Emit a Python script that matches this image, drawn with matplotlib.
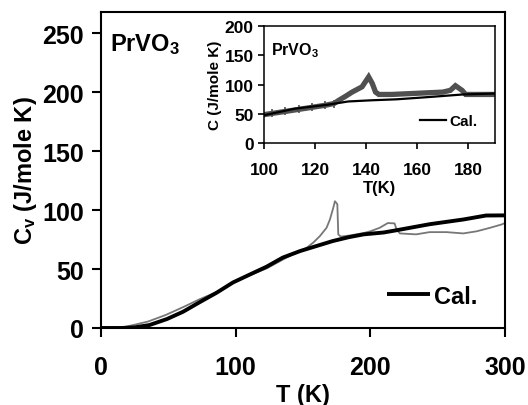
import matplotlib
matplotlib.use('Agg')
import matplotlib.pyplot as plt

plt.rcParams['font.family'] = ['Liberation Sans', 'DejaVu Sans']
plt.rcParams['font.weight'] = 'bold'
plt.rcParams['mathtext.default'] = 'regular'

# main panel: measured Cv and calculated curve
T_meas = [0, 10, 16, 24, 35, 48, 61, 73.5, 86, 98, 111, 123, 135, 145, 152.7,
          157.6, 162.6, 167.5, 170, 172.5, 173.7, 175.5, 176.2, 178, 185, 195,
          200, 207, 213, 218, 219.5, 222, 234, 244, 256.6, 269, 279, 289, 297.5, 300]
C_meas = [0, 0, 0.5, 2.5, 5.5, 11, 17.7, 24.5, 30.5, 38.6, 45, 50.5, 58, 64, 68,
          72.4, 78, 85, 92, 102, 107.5, 105, 79.4, 77.5, 78.5, 80.5,
          82, 85, 89, 88.7, 83.6, 80.2, 79.4, 81.3, 81.3, 80.2, 82, 85, 87.8, 89]

T_cal = [0, 15, 25, 36, 49, 61, 73, 86, 98, 111, 123, 135, 148, 160, 172, 184,
         195, 210, 220, 244, 269, 286, 300]
C_cal = [0, 0, 0.5, 2.5, 7.6, 13.8, 21.7, 30, 38.6, 45.6, 52, 59.7, 65.3, 69.5,
         73.7, 77, 79.4, 81, 83, 88, 92, 95.4, 95.5]

# inset: zoom on 100-190 K
Ti_meas = [100, 103, 108.4, 113.6, 118.8, 124, 127.4, 129.3, 132, 134.5, 138.4,
           141, 142.4, 143.7, 145, 150, 155, 160, 165, 170, 173, 175, 177.6,
           179, 182, 186, 190]
Ci_meas = [48.5, 50.5, 54, 57.5, 61, 64.5, 67.5, 73, 80, 87, 96,
           113, 102, 87, 83, 83, 84, 85, 86, 87, 90, 98, 90,
           83, 83, 83, 83]

Ti_cal = [100, 112, 125, 133, 142, 152, 165, 178, 190]
Ci_cal = [47.5, 58.6, 65.5, 71, 73, 74.7, 78.7, 83, 84.5]

fig = plt.figure(figsize=(5.28, 4.06), dpi=100)

ax = fig.add_axes([0.1913, 0.1897, 0.7651, 0.7783])
ax.plot(T_meas, C_meas, color='#777777', lw=1.3)
cal_line, = ax.plot(T_cal, C_cal, color='black', lw=2.8, solid_capstyle='butt')

ax.set_xlim(0, 300)
ax.set_ylim(0, 268)
ax.set_xticks([0, 100, 200, 300])
ax.set_yticks([0, 50, 100, 150, 200, 250])
ax.tick_params(axis='both', direction='out', length=6.5, width=1.5, labelsize=18)
ax.tick_params(axis='x', pad=13)
ax.tick_params(axis='y', pad=6)
for sp in ax.spines.values():
    sp.set_linewidth(1.5)

ax.set_xlabel('T (K)', fontsize=17, fontweight='bold', labelpad=3)
ax.set_ylabel('C$_\\mathregular{v}$ (J/mole K)', fontsize=17, fontweight='bold', labelpad=2)

ax.text(0.022, 0.90, 'PrVO$_\\mathregular{3}$', transform=ax.transAxes,
        fontsize=17, fontweight='bold', ha='left', va='center')

ax.legend(handles=[cal_line], labels=['Cal.'], loc='center left',
          bbox_to_anchor=(0.708, 0.101), frameon=False, fontsize=17,
          handlelength=1.8, handletextpad=0.2, borderpad=0, borderaxespad=0)

# inset
axi = fig.add_axes([0.5, 0.6453, 0.4375, 0.2882])
axi.plot(Ti_meas, Ci_meas, color='#505050', lw=3.8, marker='|', ms=6, mew=1.2,
         markevery=[1, 2, 3, 4, 5, 6], solid_joinstyle='miter')
cal_i, = axi.plot(Ti_cal, Ci_cal, color='black', lw=1.6)

axi.set_xlim(100, 190.5)
axi.set_ylim(0, 200)
axi.set_xticks([100, 120, 140, 160, 180])
axi.set_yticks([0, 50, 100, 150, 200])
axi.tick_params(axis='both', direction='out', length=4.5, width=1.2, labelsize=12.5)
axi.tick_params(axis='x', pad=9)
axi.tick_params(axis='y', pad=3)
for sp in axi.spines.values():
    sp.set_linewidth(1.1)

axi.set_xlabel('T(K)', fontsize=12, fontweight='bold', labelpad=2)
axi.set_ylabel('C (J/mole K)', fontsize=11, fontweight='bold', labelpad=2)

axi.text(0.03, 0.80, 'PrVO$_\\mathregular{3}$', transform=axi.transAxes,
         fontsize=11.5, fontweight='bold', ha='left', va='center')

axi.legend(handles=[cal_i], labels=['Cal.'], loc='center left',
           bbox_to_anchor=(0.675, 0.188), frameon=False, fontsize=11,
           handlelength=1.7, handletextpad=0.25, borderpad=0, borderaxespad=0)

fig.savefig('out.png', dpi=100)
